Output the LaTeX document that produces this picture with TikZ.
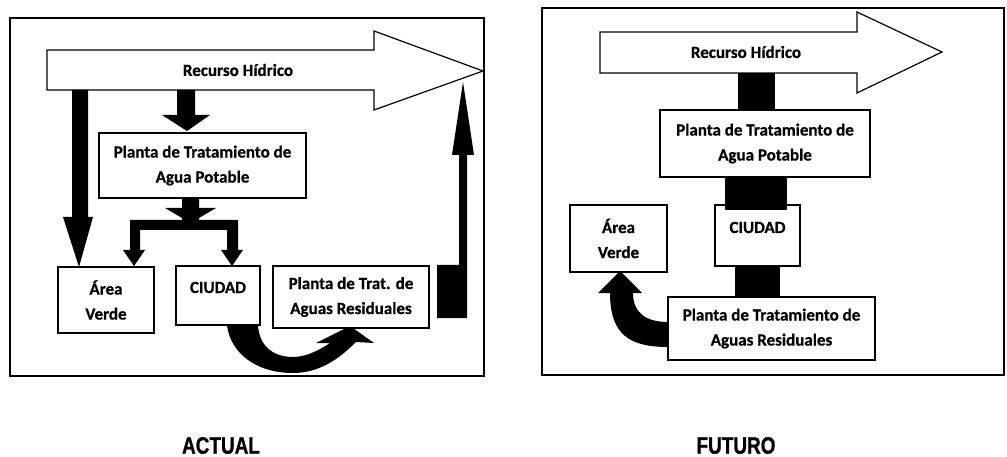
\documentclass[tikz,border=0pt]{standalone}
\usepackage{fontspec}
\newfontfamily\boxfont{Carlito}[BoldFeatures={FakeBold=0.6}]
\newfontfamily\labfont{Liberation Sans}[BoldFeatures={FakeBold=1.2}]
\begin{document}
\begin{tikzpicture}[x=1pt,y=-1pt,
  frame/.style={draw, line width=1.6pt},
  bigarrow/.style={draw, line width=1.2pt, fill=white, line join=miter},
  box/.style={draw, line width=1.4pt, fill=white, align=center, inner sep=0pt,
    font=\boxfont\bfseries\fontsize{17}{25}\selectfont},
  rtext/.style={font=\boxfont\bfseries\fontsize{17}{25}\selectfont},
  blk/.style={fill=black},
  lab/.style={font=\labfont\bfseries\fontsize{23.7}{28}\selectfont}
]
\useasboundingbox (0,0) rectangle (1007,457);
\fill[white] (0,0) rectangle (1007,457);

% ---------------- ACTUAL ----------------
\draw[frame] (10,18) rectangle (484,376);
\draw[bigarrow] (47,50) -- (374,50) -- (374,31) -- (483,71) -- (374,110) -- (374,90) -- (47,90) -- cycle;
\node[rtext] (rh) at (238,70) {Recurso Hídrico};

% black arrows
\fill[blk] (72,90) -- (88,90) -- (88,217) -- (93,217) -- (79,267) -- (63,217) -- (72,217) -- cycle;
\fill[blk] (177,90) -- (195,90) -- (195,115) -- (210,115) -- (187,131) -- (162,115) -- (177,115) -- cycle;
\fill[blk] (182,195) -- (199,195) -- (199,208) -- (216,208) -- (199,218) -- (199,220) -- (238,220) -- (238,250) -- (243,250) -- (232,266) -- (221,250) -- (227,250) -- (227,230) -- (140,230) -- (140,250) -- (145,250) -- (134,266) -- (123,250) -- (130,250) -- (130,220) -- (182,220) -- (182,218) -- (165,208) -- (182,208) -- cycle;
\fill[blk] (437,265) -- (459,265) -- (459,155) -- (452,155) -- (463,82) -- (474,155) -- (467,155) -- (467,318) -- (437,318) -- cycle;
\fill[blk] (227,325) .. controls (230,352) and (255,373) .. (293,373)
  .. controls (320,373) and (340,358) .. (356,342) -- (374,343) -- (350,326) -- (316,343) -- (330,343)
  .. controls (315,353) and (303,357) .. (293,357)
  .. controls (272,357) and (259,345) .. (258,325) -- cycle;

\node[box, minimum width=207pt, minimum height=65pt] (pap) at (202.5,165.5) {Planta de Tratamiento de\\Agua Potable};
\node[box, minimum width=96pt, minimum height=66pt] (verde) at (106,300) {Área\\Verde};
\node[box, minimum width=84pt, minimum height=59pt, text height=12pt, text depth=17pt] (ciudad) at (218,295.5) {CIUDAD};
\node[box, minimum width=156pt, minimum height=62pt] (ptar) at (351,297) {Planta de Trat. de\\Aguas Residuales};

\node[lab] (actual) at (221,445.5) {\scalebox{0.8}[1]{ACTUAL}};

% ---------------- FUTURO ----------------
\draw[frame] (542,8) rectangle (1004,375);
\fill[blk] (738,70) rectangle (775,112);
\draw[bigarrow] (600,32) -- (857,32) -- (857,12) -- (942,52) -- (857,93) -- (857,73) -- (600,73) -- cycle;
\node[rtext] (rh2) at (746,52) {Recurso Hídrico};

\fill[blk] (735,262) rectangle (780,299);
\fill[blk] (668,347) .. controls (630,347) and (610,335) .. (610,293) -- (598,293) -- (620,271) -- (642,293) -- (633,293)
  .. controls (633,312) and (645,322) .. (668,322) -- cycle;

\node[box, minimum width=210pt, minimum height=67pt] (pap2) at (765,143.5) {Planta de Tratamiento de\\Agua Potable};
\node[box, minimum width=85pt, minimum height=61pt, text height=12pt, text depth=17pt] (ciudad2) at (757.5,235.5) {CIUDAD};
\node[box, minimum width=97pt, minimum height=67pt] (verde2) at (618.5,238.5) {Área\\Verde};
\node[box, minimum width=207pt, minimum height=63pt] (ptar2) at (771.5,328.5) {Planta de Tratamiento de\\Aguas Residuales};
\fill[blk] (725,176) rectangle (787,210);

\node[lab] (futuro) at (736,445.5) {\scalebox{0.8}[1]{FUTURO}};
\end{tikzpicture}
\end{document}
